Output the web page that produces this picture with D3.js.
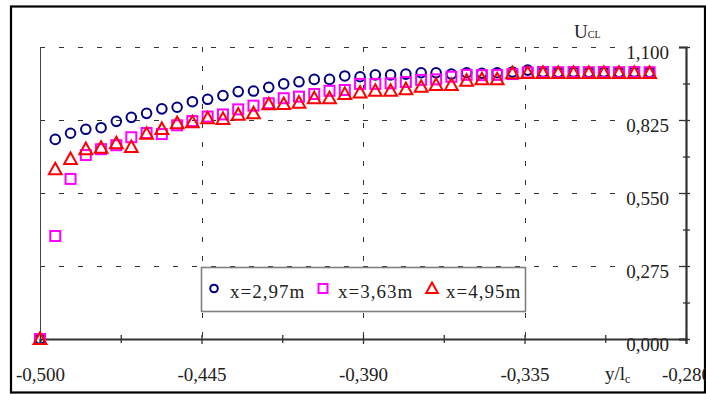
<!DOCTYPE html>
<html>
<head>
<meta charset="utf-8">
<script src="https://cdn.jsdelivr.net/npm/d3@7"></script>
<style>
  html, body { margin: 0; padding: 0; background: #fff; }
  svg { display: block; }
  text { font-family: "Liberation Serif", "DejaVu Serif", serif; fill: #222; }
</style>
</head>
<body>
<svg id="chart" width="706" height="394"></svg>
<script>
// ---- data ----
const xValues = [-0.5000, -0.4948, -0.4896, -0.4844, -0.4792, -0.4740, -0.4689, -0.4637, -0.4585, -0.4533,
                 -0.4481, -0.4429, -0.4377, -0.4325, -0.4273, -0.4221, -0.4170, -0.4118, -0.4066, -0.4014,
                 -0.3962, -0.3910, -0.3858, -0.3806, -0.3754, -0.3702, -0.3651, -0.3599, -0.3547, -0.3495,
                 -0.3443, -0.3391, -0.3339, -0.3287, -0.3235, -0.3183, -0.3131, -0.3080, -0.3028, -0.2976,
                 -0.2924];
const seriesNames = ["x=2,97m", "x=3,63m", "x=4,95m"];
const circleValues = [0.000, 0.752, 0.775, 0.790, 0.796, 0.820, 0.835, 0.850, 0.867, 0.873,
                      0.894, 0.903, 0.917, 0.932, 0.934, 0.948, 0.961, 0.969, 0.978, 0.978,
                      0.991, 0.988, 0.995, 0.995, 0.998, 1.003, 1.003, 0.998, 1.003, 1.001,
                      1.003, 1.006, 1.013, 1.006, 1.005, 1.006, 1.005, 1.006, 1.005, 1.006,
                      1.005];
const squareValues = [0.000, 0.388, 0.603, 0.693, 0.715, 0.730, 0.760, 0.776, 0.772, 0.805,
                      0.821, 0.838, 0.846, 0.865, 0.879, 0.888, 0.907, 0.913, 0.923, 0.935,
                      0.938, 0.961, 0.961, 0.963, 0.968, 0.976, 0.978, 0.988, 0.995, 0.994,
                      0.995, 0.998, 1.004, 1.006, 1.005, 1.006, 1.005, 1.006, 1.005, 1.006,
                      1.005];
const triangleValues = [0.000, 0.639, 0.678, 0.715, 0.720, 0.737, 0.723, 0.773, 0.791, 0.813,
                        0.816, 0.831, 0.829, 0.845, 0.850, 0.884, 0.885, 0.890, 0.907, 0.907,
                        0.923, 0.928, 0.935, 0.935, 0.941, 0.950, 0.957, 0.957, 0.973, 0.978,
                        0.978, 1.001, 1.002, 1.002, 1.002, 1.002, 1.002, 1.002, 1.002, 1.002,
                        1.002];
const xTicks = [-0.500, -0.445, -0.390, -0.335, -0.280];
const xMinorTicks = [-0.4725, -0.4175, -0.3625, -0.3075];
const yTicks = [0, 0.275, 0.550, 0.825, 1.100];
const yMinorTicks = [0.1375, 0.4125, 0.6875, 0.9625];

// ---- layout ----
const svg = d3.select("#chart");
const x = d3.scaleLinear().domain([-0.5, -0.28]).range([40, 686]);
const y = d3.scaleLinear().domain([0, 1.1]).range([339, 47]);
const fmt = d => d3.format(".3f")(d).replace("−", "-").replace(".", ",");
const FS = 19;

// outer border
svg.append("rect").attr("x", 11).attr("y", 6.5).attr("width", 694).attr("height", 386)
  .attr("fill", "none").attr("stroke", "#000").attr("stroke-width", 2.2);

// gridlines
const grid = svg.append("g").attr("stroke", "#333").attr("stroke-width", 1).attr("stroke-dasharray", "5,14");
grid.selectAll(".hg").data(yTicks.filter(d => d > 0)).join("line")
  .attr("x1", x(-0.5)).attr("x2", 618)
  .attr("y1", d => Math.round(y(d)) + 0.5).attr("y2", d => Math.round(y(d)) + 0.5);
grid.selectAll(".vg").data(xTicks.filter(d => d > -0.5 && d < -0.28)).join("line")
  .attr("x1", d => Math.round(x(d)) + 0.5).attr("x2", d => Math.round(x(d)) + 0.5)
  .attr("y1", y(1.1)).attr("y2", y(0));
// left edge of plot area
svg.append("line").attr("x1", x(-0.5) + 0.5).attr("x2", x(-0.5) + 0.5)
  .attr("y1", y(1.1)).attr("y2", y(0)).attr("stroke", "#444").attr("stroke-width", 1);

// x axis (major + minor)
const xAxis = svg.append("g").attr("transform", `translate(0,${y(0)})`)
  .call(d3.axisBottom(x).tickValues(xTicks).tickFormat(fmt).tickSize(5).tickPadding(24));
xAxis.select(".domain").attr("stroke", "#333").attr("stroke-width", 2.2);
xAxis.selectAll(".tick line").attr("y1", -4).attr("y2", 5).attr("stroke", "#333").attr("stroke-width", 1.3);
xAxis.selectAll(".tick text").attr("font-size", FS).attr("font-family", "Liberation Serif").attr("fill", "#222");
const xMinor = svg.append("g").attr("transform", `translate(0,${y(0)})`)
  .call(d3.axisBottom(x).tickValues(xMinorTicks).tickFormat("").tickSize(4));
xMinor.select(".domain").remove();
xMinor.selectAll(".tick line").attr("y1", -4).attr("y2", 4).attr("stroke", "#333").attr("stroke-width", 1.3);

// y axis (right side, labels to the left)
const yAxis = svg.append("g").attr("transform", `translate(${x(-0.28)},0)`)
  .call(d3.axisLeft(y).tickValues(yTicks).tickFormat(fmt).tickSize(7).tickPadding(10));
yAxis.select(".domain").attr("stroke", "#333").attr("stroke-width", 2.2);
yAxis.selectAll(".tick line").attr("x1", -7).attr("x2", 4).attr("stroke", "#333").attr("stroke-width", 1.3);
yAxis.selectAll(".tick text").attr("font-size", FS).attr("font-family", "Liberation Serif")
  .attr("dy", "0.62em").attr("fill", "#222");
const yMinor = svg.append("g").attr("transform", `translate(${x(-0.28)},0)`)
  .call(d3.axisLeft(y).tickValues(yMinorTicks).tickFormat("").tickSize(3));
yMinor.select(".domain").remove();
yMinor.selectAll(".tick line").attr("x1", -3).attr("x2", 4).attr("stroke", "#333").attr("stroke-width", 1.3);

// axis titles
const tU = svg.append("text").attr("x", 574).attr("y", 38).attr("font-size", FS);
tU.append("tspan").text("U");
tU.append("tspan").attr("font-size", 10).text("CL");
const tY = svg.append("text").attr("x", 605).attr("y", 380).attr("font-size", FS);
tY.append("tspan").text("y/l");
tY.append("tspan").attr("font-size", 12).attr("dy", 3).text("c");

// markers
const pts = (vals) => xValues.map((xv, i) => ({ x: xv, v: vals[i] }));
const circ = "#000080", sq = "#FF00FF", tri = "#FF0000";
svg.append("g").selectAll("circle").data(pts(circleValues)).join("circle")
  .attr("cx", d => x(d.x)).attr("cy", d => y(d.v)).attr("r", 4.8)
  .attr("fill", "none").attr("stroke", circ).attr("stroke-width", 2);
svg.append("g").selectAll("rect").data(pts(squareValues)).join("rect")
  .attr("x", d => x(d.x) - 5).attr("y", d => y(d.v) - 5).attr("width", 10).attr("height", 10)
  .attr("fill", "none").attr("stroke", sq).attr("stroke-width", 2);
const triPath = (cx, cy, s) => `M${cx},${cy - s * 0.6}L${cx + s * 0.58},${cy + s * 0.45}L${cx - s * 0.58},${cy + s * 0.45}Z`;
svg.append("g").selectAll("path").data(pts(triangleValues)).join("path")
  .attr("d", d => triPath(x(d.x), y(d.v), 11))
  .attr("fill", "none").attr("stroke", tri).attr("stroke-width", 2).attr("stroke-linejoin", "miter");

// legend
const lg = svg.append("g");
lg.append("rect").attr("x", 201.5).attr("y", 267.5).attr("width", 324).attr("height", 44)
  .attr("fill", "#fff").attr("stroke", "#808080").attr("stroke-width", 1.6);
const legendItems = [
  { name: seriesNames[0], type: "circle", color: circ, mx: 214, tx: 230 },
  { name: seriesNames[1], type: "square", color: sq, mx: 323, tx: 338 },
  { name: seriesNames[2], type: "triangle", color: tri, mx: 432, tx: 446 }
];
const my = 288.5;
legendItems.forEach(it => {
  if (it.type === "circle") {
    lg.append("circle").attr("cx", it.mx).attr("cy", my).attr("r", 3.8)
      .attr("fill", "none").attr("stroke", it.color).attr("stroke-width", 2);
  } else if (it.type === "square") {
    lg.append("rect").attr("x", it.mx - 4.5).attr("y", my - 4.5).attr("width", 9).attr("height", 9)
      .attr("fill", "none").attr("stroke", it.color).attr("stroke-width", 2);
  } else {
    lg.append("path").attr("d", triPath(it.mx, my, 10))
      .attr("fill", "none").attr("stroke", it.color).attr("stroke-width", 2);
  }
  lg.append("text").attr("x", it.tx).attr("y", 298).attr("font-size", FS)
    .attr("letter-spacing", "1px").text(it.name);
});
</script>
</body>
</html>
